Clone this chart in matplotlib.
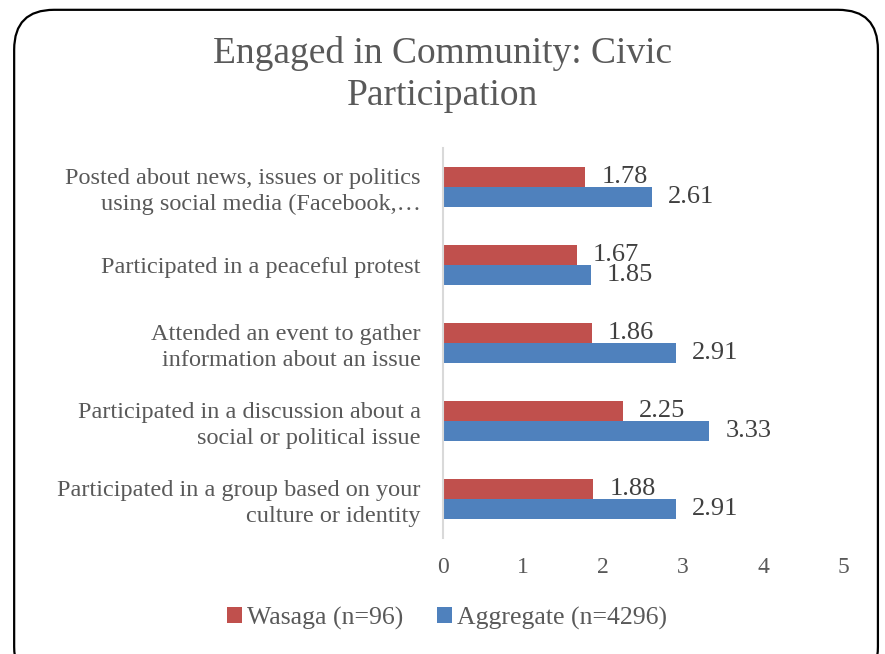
import numpy as np
import matplotlib.pyplot as plt
from matplotlib.patches import FancyBboxPatch

plt.rcParams['font.family'] = ['Liberation Serif', 'DejaVu Serif']

categories = [
    "Posted about news, issues or politics\nusing social media (Facebook,…",
    "Participated in a peaceful protest",
    "Attended an event to gather\ninformation about an issue",
    "Participated in a discussion about a\nsocial or political issue",
    "Participated in a group based on your\nculture or identity",
]
wasaga = [1.78, 1.67, 1.86, 2.25, 1.88]
aggregate = [2.61, 1.85, 2.91, 3.33, 2.91]
series_names = ["Wasaga (n=96)", "Aggregate (n=4296)"]
x_ticks = [0, 1, 2, 3, 4, 5]

red = '#C0504D'
blue = '#4F81BD'
txt = '#595959'

fig = plt.figure(figsize=(8.85, 6.54), dpi=100)
ax = fig.add_axes([0.5006, 0.1774, 0.4519, 0.5963])

# rounded frame
frame = FancyBboxPatch((0.016, -0.05), 0.976, 1.035,
                       boxstyle="round,pad=0,rounding_size=0.045",
                       transform=fig.transFigure, fill=False,
                       edgecolor='black', linewidth=1.6, mutation_aspect=885/654)
fig.patches.append(frame)

y = np.arange(len(categories))
h = 0.26
b1 = ax.barh(y - h / 2, wasaga, height=h, color=red, label=series_names[0])
b2 = ax.barh(y + h / 2, aggregate, height=h, color=blue, label=series_names[1])

for bars, vals in ((b1, wasaga), (b2, aggregate)):
    for bar, v in zip(bars, vals):
        ax.text(v + 0.2, bar.get_y() + bar.get_height() / 2, f"{v:.2f}",
                va='center', ha='left', fontsize=19, color='#404040')

ax.set_ylim(len(categories) - 0.5, -0.5)
ax.set_xlim(0, 5)
ax.set_xticks(x_ticks)
ax.set_xticklabels([str(t) for t in x_ticks], fontsize=17, color=txt)
ax.set_yticks(y)
ax.set_yticklabels(categories, fontsize=17.5, color=txt, ha='right',
                   multialignment='right', linespacing=1.3)
ax.tick_params(axis='both', length=0)
ax.tick_params(axis='x', pad=14)
ax.tick_params(axis='y', pad=16)
for s in ['top', 'right', 'bottom']:
    ax.spines[s].set_visible(False)
ax.spines['left'].set_color('#D9D9D9')
ax.spines['left'].set_linewidth(1.5)

fig.suptitle("Engaged in Community: Civic\nParticipation", fontsize=27,
             color=txt, y=0.945, linespacing=1.3)

leg = fig.legend(loc='center', bbox_to_anchor=(0.505, 0.055), ncol=2,
                 frameon=False, fontsize=18.5, handlelength=0.6,
                 handleheight=0.6, handletextpad=0.2, columnspacing=1.3)
for t in leg.get_texts():
    t.set_color(txt)

fig.savefig("out.png", dpi=100)
